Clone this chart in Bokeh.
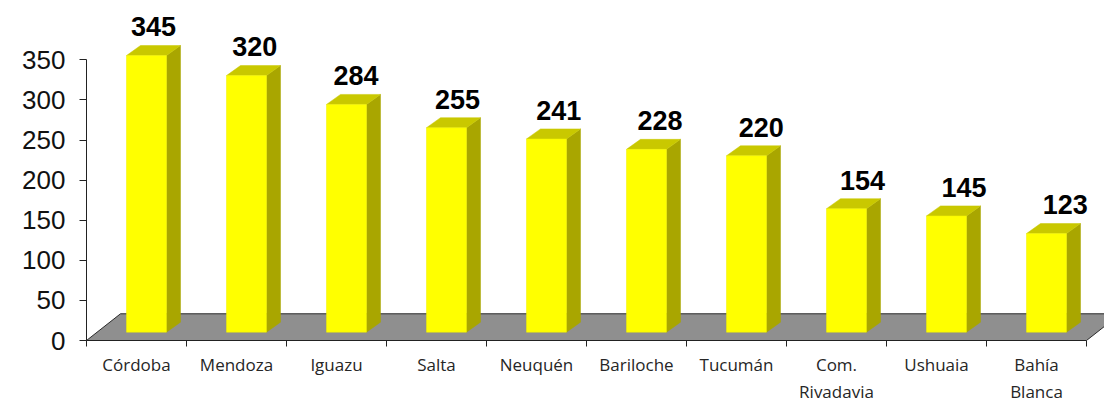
from bokeh.plotting import figure
from bokeh.models import Range1d, FixedTicker, ColumnDataSource
from bokeh.core.properties import value
from bokeh.embed import file_html
from bokeh.resources import INLINE

# ---- data ----
cities = ["Córdoba", "Mendoza", "Iguazu", "Salta", "Neuquén", "Bariloche",
          "Tucumán", "Com.\nRivadavia", "Ushuaia", "Bahía\nBlanca"]
values = [345, 320, 284, 255, 241, 228, 220, 154, 145, 123]
y_ticks = [0, 50, 100, 150, 200, 250, 300, 350]

# ---- 3D projection constants (in data units) ----
BASE = 10.35        # floor level under the bars
DX, DY = 0.14, 12.5  # bar depth offset
FX, FY = 0.34, 33.3  # floor depth offset
BL, BR = 0.40, 0.80  # bar front face position inside a category slot

n = len(values)
idx = list(range(n))

p = figure(frame_width=1018, frame_height=332,
           x_range=Range1d(0, 10.18), y_range=Range1d(0, 414),
           output_backend="svg", toolbar_location=None,
           min_border_left=86, min_border_right=0, min_border_top=8,
           min_border_bottom=61)
p.outline_line_color = None
p.grid.visible = False
p.background_fill_color = "white"

# floor
p.patch([0, n, n + FX, FX], [0, 0, FY, FY],
        fill_color="#8f8f8f", line_color="#2b2b2b", line_width=1)

# bars
fronts = ColumnDataSource(dict(
    left=[i + BL for i in idx], right=[i + BR for i in idx],
    bottom=[BASE] * n, top=[BASE + v for v in values]))
side_xs = [[i + BR, i + BR + DX, i + BR + DX, i + BR] for i in idx]
side_ys = [[BASE, BASE + DY, BASE + v + DY, BASE + v] for v in values]
top_xs = [[i + BL, i + BR, i + BR + DX, i + BL + DX] for i in idx]
top_ys = [[BASE + v, BASE + v, BASE + v + DY, BASE + v + DY] for v in values]

p.patches(side_xs, side_ys, fill_color="#a9a600", line_color="#a9a600", line_width=0.5)
p.patches(top_xs, top_ys, fill_color="#c9c800", line_color="#c9c800", line_width=0.5)
p.quad(left="left", right="right", bottom="bottom", top="top", source=fronts,
       fill_color="#ffff00", line_color="#f0f000", line_width=0.5)

# value labels
labels = ColumnDataSource(dict(
    x=[i + 0.67 + 0.013 * i for i in idx],
    y=[v + 46 for v in values],
    t=[str(v) for v in values]))
p.text(x="x", y="y", text="t", source=labels, text_align="center",
       text_baseline="middle", text_font=value("Liberation Sans"),
       text_font_style="bold", text_font_size="27px", text_color="#000000")

# y axis
ya = p.yaxis[0]
ya.ticker = FixedTicker(ticks=y_ticks)
ya.bounds = (0, 350)
ya.major_tick_in = 0
ya.major_tick_out = 7
ya.minor_tick_line_color = None
ya.major_label_standoff = 14
ya.major_label_text_font = "Liberation Sans"
ya.major_label_text_font_size = "26px"
ya.major_label_text_color = "#111111"
ya.axis_line_color = "#222222"
ya.major_tick_line_color = "#222222"

# x axis
xa = p.xaxis[0]
xa.ticker = FixedTicker(ticks=[i + 0.5 for i in idx], minor_ticks=list(range(n + 1)))
xa.bounds = (0, n)
xa.major_tick_in = 0
xa.major_tick_out = 0
xa.minor_tick_in = 0
xa.minor_tick_out = 6
xa.minor_tick_line_color = "#222222"
xa.axis_line_color = "#222222"
xa.major_label_overrides = {i + 0.5: c for i, c in zip(idx, cities)}
xa.major_label_standoff = 6
xa.major_label_text_font = "Open Sans"
xa.major_label_text_font_size = "17px"
xa.major_label_text_color = "#262626"

open("out.html", "w").write(file_html(p, INLINE))
